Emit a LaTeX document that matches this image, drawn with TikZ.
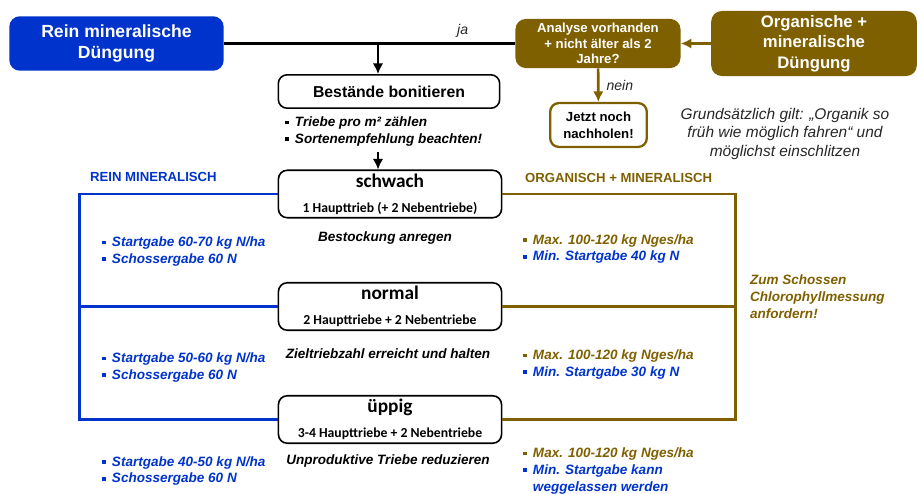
\documentclass[tikz,border=0pt]{standalone}
\usepackage{fontspec}
\setmainfont{Liberation Sans}
\newfontfamily\carlito{Carlito}
\usetikzlibrary{positioning,arrows.meta}
\definecolor{minblue}{HTML}{0033CC}
\definecolor{orgbrown}{HTML}{7F6000}
\newcommand{\sq}{\raisebox{.3ex}{\rule{2.2pt}{2.2pt}}\ \,}
\newcommand{\fs}[2]{\fontsize{#1}{#2}\selectfont}

\begin{document}
\begin{tikzpicture}[x=0.02cm,y=-0.02cm,>={Latex[length=6pt,width=6pt]},
  every node/.style={font=\bfseries,inner sep=1pt},
  headbox/.style={fill=#1,rounded corners=6pt,text=white,align=center},
  stage/.style={draw,rounded corners=5pt,line width=.9pt,minimum width=127pt,minimum height=27pt,align=center,font={\carlito\bfseries}},
  bullets/.style={anchor=west,align=left,font={\bfseries\itshape\fs{7.7}{9.6}}},
  remark/.style={font={\bfseries\itshape\fs{7.7}{9.6}}}]
  \useasboundingbox (0,0) rectangle (917,494);

  % top row
  \node[headbox=minblue,minimum width=122pt,minimum height=31pt,font={\bfseries\fs{10}{12}}] (rein) at (116.5,43.5) {Rein mineralische\\Düngung};
  \node[headbox=orgbrown,minimum width=94pt,minimum height=28pt,font={\bfseries\fs{7.5}{8.8}}] (analyse) at (598,43.5) {Analyse vorhanden\\+ nicht älter als 2\\Jahre?};
  \node[headbox=orgbrown,minimum width=117pt,minimum height=37pt,font={\bfseries\fs{9.5}{11.6}}] (organ) at (814,43.5) {Organische +\\mineralische\\Düngung};
  \node[draw,rounded corners=5pt,line width=.9pt,minimum width=126pt,minimum height=19pt,font={\bfseries\fs{9}{11}}] (bonit) at (389,91.5) {Bestände bonitieren};
  \node[draw=orgbrown,rounded corners=5pt,line width=1.3pt,minimum width=55pt,minimum height=25pt,align=center,font={\bfseries\fs{7.5}{9.5}}] (jetzt) at (598.5,125) {Jetzt noch\\nachholen!};
  \node[bullets] (zaehlen) at (283,131.5) {\sq Triebe pro m² zählen\\\sq Sortenempfehlung beachten!};
  \node[align=center,text=black!85,font={\itshape\fs{8.8}{10.8}}] (grund) at (785,134) {Grundsätzlich gilt: „Organik so\\früh wie möglich fahren“ und\\möglichst einschlitzen};

  \coordinate (split) at (378,43.5);
  \coordinate (down) at (378,152);

  % stages
  \node[stage] (schwach) at (390,194) {\fs{11}{13}schwach\\[2pt]\fs{7.8}{9}1 Haupttrieb (+ 2 Nebentriebe)};
  \node[stage] (normal) at (390,306.5) {\fs{11}{13}normal\\[2pt]\fs{7.8}{9}2 Haupttriebe + 2 Nebentriebe};
  \node[stage] (uppig) at (390,419.5) {\fs{11}{13}üppig\\[2pt]\fs{7.8}{9}3-4 Haupttriebe + 2 Nebentriebe};

  \node[anchor=west,text=minblue,font={\bfseries\fs{7.5}{9}}] (reinlab) at (88,177) {REIN MINERALISCH};
  \node[anchor=west,text=orgbrown,font={\bfseries\fs{7.5}{9}}] (orglab) at (523,178) {ORGANISCH + MINERALISCH};

  \node[remark] (bestock) at (385,238) {Bestockung anregen};
  \node[remark] (ziel) at (388,354) {Zieltriebzahl erreicht und halten};
  \node[remark] (unprod) at (388,461) {Unproduktive Triebe reduzieren};

  \node[bullets,text=minblue] (min1) at (100,251.5) {\sq Startgabe 60-70 kg N/ha\\\sq Schossergabe 60 N};
  \node[bullets,text=minblue] (min2) at (100,367.5) {\sq Startgabe 50-60 kg N/ha\\\sq Schossergabe 60 N};
  \node[bullets,text=minblue] (min3) at (100,471) {\sq Startgabe 40-50 kg N/ha\\\sq Schossergabe 60 N};

  \node[bullets] (org1) at (521,249) {{\color{orgbrown}\sq Max. 100-120 kg Nges/ha}\\{\color{minblue}\sq Min. Startgabe 40 kg N}};
  \node[bullets] (org2) at (521,364.5) {{\color{orgbrown}\sq Max. 100-120 kg Nges/ha}\\{\color{minblue}\sq Min. Startgabe 30 kg N}};
  \node[bullets] (org3) at (521,471) {{\color{orgbrown}\sq Max. 100-120 kg Nges/ha}\\{\color{minblue}\sq Min. Startgabe kann}\\{\color{minblue}\hphantom{\sq}weggelassen werden}};

  \node[bullets,text=orgbrown] (chloro) at (748,297) {Zum Schossen\\Chlorophyllmessung\\anfordern!};

  % connectors
  \draw[line width=1.4pt] (rein) -- node[pos=.82,above=2pt,text=black!85,font={\itshape\fs{8}{9}}] {ja} (analyse);
  \draw[->,line width=1.4pt] (split) -- (split |- bonit.north);
  \draw[->,line width=1.4pt] (down) -- (down |- schwach.north);
  \draw[->,orgbrown,line width=1.5pt] (organ) -- (analyse);
  \draw[->,orgbrown,line width=1.5pt] (analyse) -- node[right=3pt,text=black!85,font={\itshape\fs{8}{9}}] {nein} (jetzt);

  \draw[minblue,line width=1.6pt] (schwach.west) -- ++(-198,0) |- (uppig.west);
  \draw[minblue,line width=1.6pt] (normal.west) -- ++(-198,0);
  \draw[orgbrown,line width=1.6pt] (schwach.east) -- ++(233,0) |- (uppig.east);
  \draw[orgbrown,line width=1.6pt] (normal.east) -- ++(233,0);
\end{tikzpicture}
\end{document}
